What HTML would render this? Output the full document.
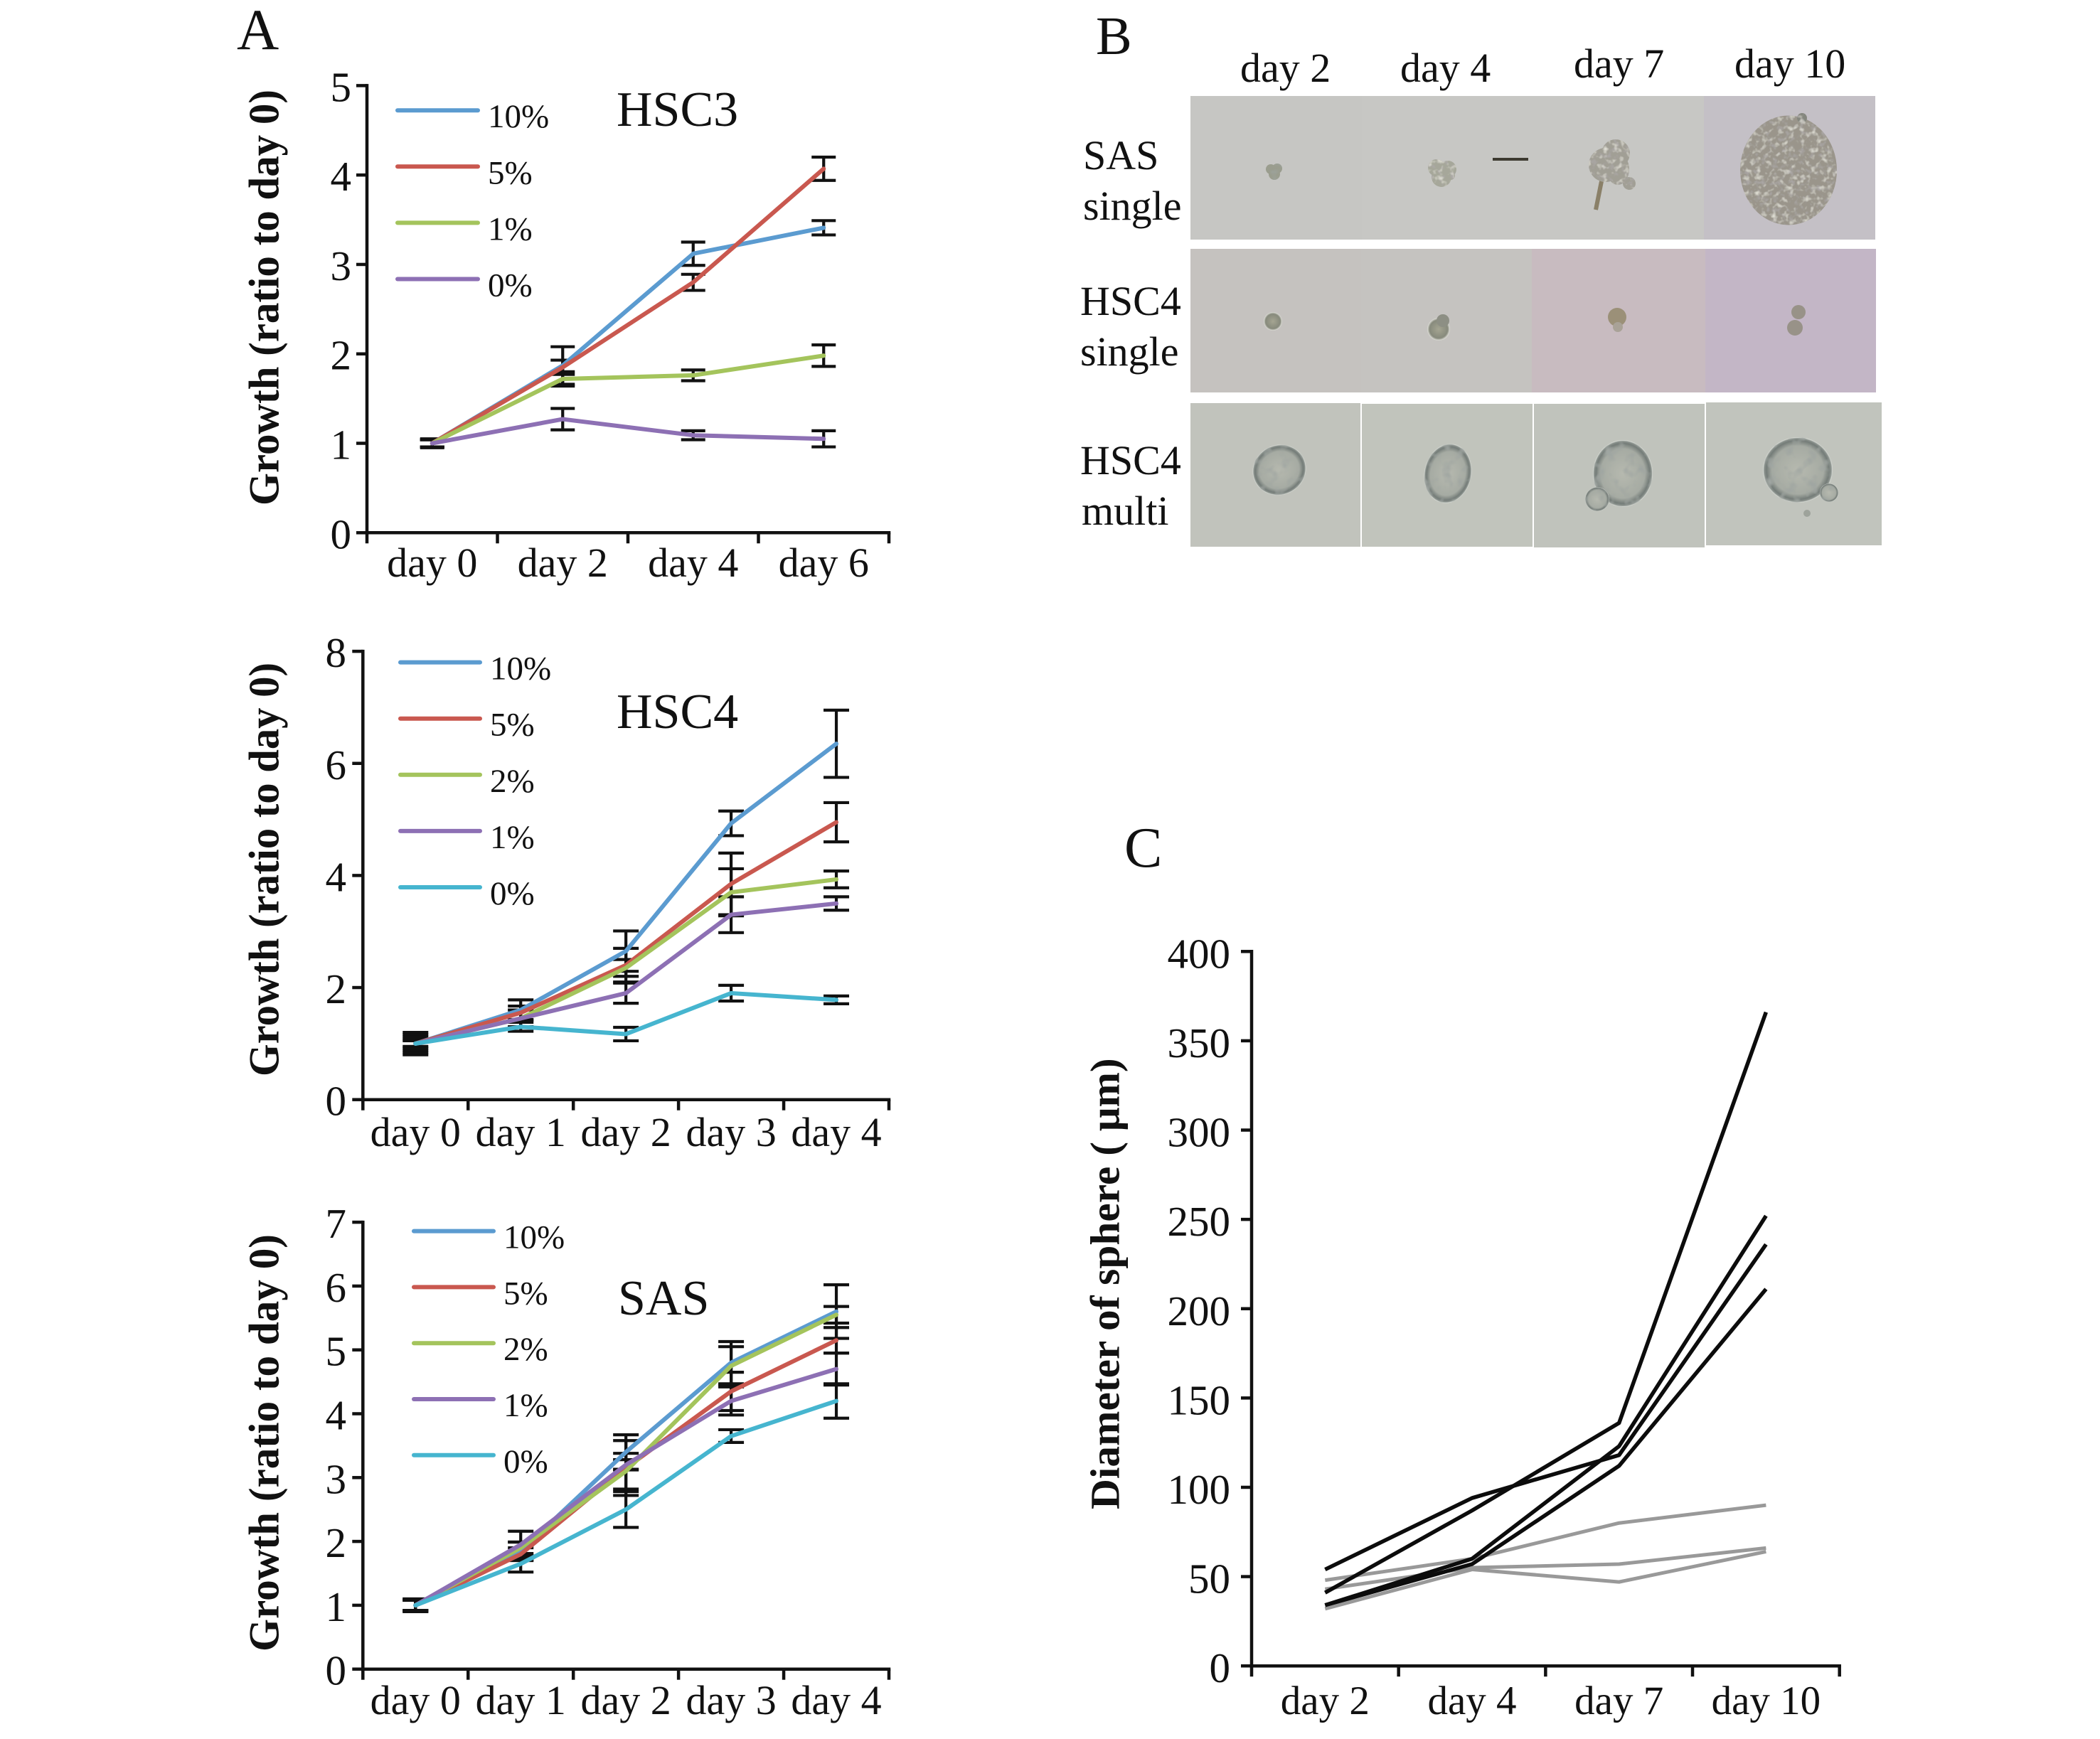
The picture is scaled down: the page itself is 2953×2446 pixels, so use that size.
<!DOCTYPE html>
<html lang="en">
<head>
<meta charset="utf-8">
<title>Growth and sphere formation figure</title>
<style>
html,body{margin:0;padding:0;background:#fff;}
#figure{display:block;width:2953px;height:2446px;font-family:"Liberation Serif",serif;}
text{font-family:"Liberation Serif",serif;fill:#111;}
</style>
</head>
<body>
<svg id="figure" xmlns="http://www.w3.org/2000/svg" width="2953" height="2446" viewBox="0 0 2953 2446">
<defs>
<filter id="cells" x="0" y="0" width="100%" height="100%">
<feTurbulence type="fractalNoise" baseFrequency="0.13" numOctaves="2" seed="4" result="n"/>
<feColorMatrix in="n" type="matrix" values="0 0 0 0 0.76  0 0 0 0 0.75  0 0 0 0 0.68  2.6 0 0 0 -1.35" result="lightRaw"/>
<feComposite in="lightRaw" in2="SourceAlpha" operator="in" result="light"/>
<feColorMatrix in="n" type="matrix" values="0 0 0 0 0.42  0 0 0 0 0.40  0 0 0 0 0.40  0 2.6 0 0 -1.35" result="darkRaw"/>
<feComposite in="darkRaw" in2="SourceAlpha" operator="in" result="dark"/>
<feMerge><feMergeNode in="SourceGraphic"/><feMergeNode in="dark"/><feMergeNode in="light"/></feMerge>
</filter>
<filter id="grain" x="0" y="0" width="100%" height="100%">
<feTurbulence type="fractalNoise" baseFrequency="0.07" numOctaves="2" seed="9" result="n"/>
<feColorMatrix in="n" type="matrix" values="0 0 0 0 0.35  0 0 0 0 0.38  0 0 0 0 0.36  3 0 0 0 -1.5" result="darkRaw"/>
<feComposite in="darkRaw" in2="SourceAlpha" operator="in" result="dark"/>
<feMerge><feMergeNode in="SourceGraphic"/><feMergeNode in="dark"/></feMerge>
</filter>
<radialGradient id="sphereMulti" cx="50%" cy="50%" r="50%">
<stop offset="0" stop-color="#b6b9af"/><stop offset="0.74" stop-color="#a6aba3"/><stop offset="0.9" stop-color="#747c78"/><stop offset="0.96" stop-color="#8b928d"/><stop offset="1" stop-color="#e2e5df"/>
</radialGradient>
<radialGradient id="cellSmall" cx="50%" cy="50%" r="50%">
<stop offset="0" stop-color="#a5a592"/><stop offset="0.8" stop-color="#878a7c"/><stop offset="1" stop-color="#e0e0da"/>
</radialGradient>
</defs>

<rect width="2953" height="2446" fill="#ffffff"/>

<text x="333" y="69" font-size="82">A</text>
<text x="1541" y="76" font-size="76">B</text>
<text x="1581" y="1219" font-size="80">C</text>

<g id="panel-b">
  <text x="1744" y="115" font-size="58">day 2</text>
  <text x="1969" y="115" font-size="58">day 4</text>
  <text x="2213" y="109" font-size="58">day 7</text>
  <text x="2439" y="109" font-size="58">day 10</text>
  <text x="1523" y="238" font-size="58">SAS</text>
  <text x="1523" y="309" font-size="58">single</text>
  <text x="1519" y="443" font-size="58">HSC4</text>
  <text x="1519" y="514" font-size="58">single</text>
  <text x="1519" y="667" font-size="58">HSC4</text>
  <text x="1521" y="738" font-size="58">multi</text>

  <rect x="1674" y="135" width="241" height="202" fill="#c6c6c3"/>
  <rect x="1915" y="135" width="240" height="202" fill="#c7c7c4"/>
  <rect x="2155" y="135" width="241" height="202" fill="#c7c7c4"/>
  <rect x="2396" y="135" width="241" height="202" fill="#c4c0c6"/>

  <rect x="1674" y="350" width="240" height="202" fill="#c5c2bf"/>
  <rect x="1914" y="350" width="240" height="202" fill="#c5c3c0"/>
  <rect x="2154" y="350" width="244" height="202" fill="#c8bbc0"/>
  <rect x="2398" y="350" width="240" height="202" fill="#c3b6c6"/>

  <rect x="1674" y="567" width="239" height="202" fill="#c1c3bc"/>
  <rect x="1915" y="568" width="240" height="201" fill="#c1c4bc"/>
  <rect x="2157" y="568" width="240" height="202" fill="#c0c3bc"/>
  <rect x="2399" y="566" width="247" height="201" fill="#c1c4bd"/>

  <g filter="url(#grain)">
    <circle cx="1787" cy="238" r="7" fill="#9a9d8e"/><circle cx="1796" cy="237" r="7" fill="#9a9d8e"/><circle cx="1792" cy="245" r="8" fill="#9a9d8e"/>
  </g>
  <g filter="url(#cells)">
    <circle cx="2020" cy="236" r="12" fill="#a6a79a"/><circle cx="2036" cy="238" r="12" fill="#a6a79a"/><circle cx="2027" cy="249" r="14" fill="#a6a79a"/><circle cx="2040" cy="247" r="6" fill="#a6a79a"/>
  </g>
  <rect x="2099" y="222" width="50" height="4" fill="#3d3a30"/>
  <line x1="2252" y1="255" x2="2244" y2="295" stroke="#8a8068" stroke-width="6"/>
  <g filter="url(#cells)">
    <ellipse cx="2272" cy="216" rx="20" ry="20" fill="#a19f95"/><ellipse cx="2258" cy="232" rx="24" ry="24" fill="#a19f95"/><ellipse cx="2275" cy="238" rx="16" ry="22" fill="#a19f95"/><circle cx="2291" cy="258" r="9" fill="#a19f95"/>
  </g>
  <g filter="url(#cells)">
    <ellipse cx="2515" cy="239.5" rx="68" ry="77" fill="#9a958b"/>
    <circle cx="2534" cy="166" r="7" fill="#84867e"/>
  </g>

  <circle cx="1790" cy="452" r="13" fill="url(#cellSmall)"/>
  <circle cx="2023" cy="463" r="16" fill="url(#cellSmall)"/>
  <circle cx="2029" cy="451" r="9" fill="#8d8f84"/>
  <circle cx="2274" cy="446" r="13" fill="#9b9078"/>
  <circle cx="2275" cy="460" r="7" fill="#a9a297"/>
  <circle cx="2529" cy="439" r="10" fill="#989288"/>
  <circle cx="2524" cy="461" r="11" fill="#989288"/>

  <g filter="url(#grain)">
    <ellipse cx="1799" cy="661" rx="38" ry="35" transform="rotate(-25 1799 661)" fill="url(#sphereMulti)"/>
  </g>
  <g filter="url(#grain)">
    <ellipse cx="2036" cy="666" rx="33" ry="42" transform="rotate(12 2036 666)" fill="url(#sphereMulti)"/>
  </g>
  <g filter="url(#grain)">
    <ellipse cx="2282" cy="666" rx="42" ry="47" fill="url(#sphereMulti)"/>
    <circle cx="2246" cy="702" r="17" fill="url(#sphereMulti)"/>
  </g>
  <g filter="url(#grain)">
    <ellipse cx="2528" cy="661" rx="49" ry="46" fill="url(#sphereMulti)"/>
    <circle cx="2572" cy="693" r="13" fill="url(#sphereMulti)"/>
    <circle cx="2541" cy="722" r="5" fill="#9ea39b"/>
  </g>
</g>

<g id="plots"></g>
</svg>

<script>
// ---------- HSC3 data ----------
const hsc3Categories = ['day 0', 'day 2', 'day 4', 'day 6'];
const hsc3Ticks = [0, 1, 2, 3, 4, 5];
const hsc3Labels = ['10%', '5%', '1%', '0%'];
const hsc3Pct10 = [1, 1.87, 3.12, 3.41];
const hsc3Pct5 = [1, 1.85, 2.80, 4.07];
const hsc3Pct1 = [1, 1.72, 1.76, 1.98];
const hsc3Pct0 = [1, 1.27, 1.09, 1.05];
const hsc3Err10 = [0.04, 0.21, 0.13, 0.08];
const hsc3Err5 = [0.04, 0.08, 0.09, 0.13];
const hsc3Err1 = [0.04, 0.08, 0.06, 0.12];
const hsc3Err0 = [0.05, 0.12, 0.05, 0.09];

// ---------- HSC4 data ----------
const hsc4Categories = ['day 0', 'day 1', 'day 2', 'day 3', 'day 4'];
const hsc4Ticks = [0, 2, 4, 6, 8];
const hsc4Labels = ['10%', '5%', '2%', '1%', '0%'];
const hsc4Pct10 = [1, 1.60, 2.65, 4.93, 6.35];
const hsc4Pct5 = [1, 1.55, 2.40, 3.85, 4.95];
const hsc4Pct2 = [1, 1.45, 2.35, 3.70, 3.93];
const hsc4Pct1 = [1, 1.45, 1.90, 3.30, 3.50];
const hsc4Pct0 = [1, 1.30, 1.17, 1.90, 1.78];
const hsc4Err10 = [0.20, 0.18, 0.36, 0.22, 0.60];
const hsc4Err5 = [0.16, 0.12, 0.30, 0.55, 0.35];
const hsc4Err2 = [0.12, 0.15, 0.15, 0.42, 0.15];
const hsc4Err1 = [0.08, 0.15, 0.18, 0.32, 0.12];
const hsc4Err0 = [0.05, 0.08, 0.12, 0.14, 0.07];

// ---------- SAS data ----------
const sasCategories = ['day 0', 'day 1', 'day 2', 'day 3', 'day 4'];
const sasTicks = [0, 1, 2, 3, 4, 5, 6, 7];
const sasLabels = ['10%', '5%', '2%', '1%', '0%'];
const sasPct10 = [1, 1.85, 3.40, 4.80, 5.60];
const sasPct5 = [1, 1.80, 3.15, 4.35, 5.15];
const sasPct2 = [1, 1.90, 3.10, 4.75, 5.55];
const sasPct1 = [1, 1.95, 3.20, 4.20, 4.70];
const sasPct0 = [1, 1.65, 2.50, 3.65, 4.20];
const sasErr10 = [0.10, 0.14, 0.27, 0.33, 0.42];
const sasErr5 = [0.08, 0.10, 0.43, 0.30, 0.20];
const sasErr2 = [0.08, 0.09, 0.28, 0.30, 0.13];
const sasErr1 = [0.08, 0.21, 0.08, 0.22, 0.25];
const sasErr0 = [0.10, 0.13, 0.28, 0.10, 0.27];

// ---------- Sphere diameter data ----------
const sphereCategories = ['day 2', 'day 4', 'day 7', 'day 10'];
const sphereTicks = [0, 50, 100, 150, 200, 250, 300, 350, 400];
const sphereGrowingA = [54, 94, 118, 236];
const sphereGrowingB = [41, 87, 136, 366];
const sphereGrowingC = [34, 60, 123, 252];
const sphereGrowingD = [34, 57, 112, 211];
const sphereStableA = [48, 60, 80, 90];
const sphereStableB = [43, 55, 57, 66];
const sphereStableC = [32, 54, 47, 64];

const NS = 'http://www.w3.org/2000/svg';
const plots = document.getElementById('plots');
const BLUE = '#5b9bd0', RED = '#c9584f', GREEN = '#a4c45c', PURPLE = '#8d70b4', CYAN = '#46b5cf';

function make(tag, attrs, parent) {
  const node = document.createElementNS(NS, tag);
  Object.keys(attrs).forEach(function (k) { node.setAttribute(k, attrs[k]); });
  parent.appendChild(node);
  return node;
}

function drawAxes(g, cfg, xPos, yPos) {
  const half = cfg.axisWidth / 2;
  const yAxis = make('line', {x1: cfg.left, y1: cfg.top - half, x2: cfg.left, y2: cfg.bottom, stroke: '#111', 'stroke-width': cfg.axisWidth}, g);
  
  
  const xAxis = make('line', {x1: cfg.left - half, y1: cfg.bottom, x2: cfg.right + half, y2: cfg.bottom, stroke: '#111', 'stroke-width': cfg.axisWidth}, g);
  
  

  cfg.ticks.forEach(function (t) {
    const mark = make('line', {x1: cfg.left - 15, y1: yPos(t), x2: cfg.left, y2: yPos(t), stroke: '#111', 'stroke-width': cfg.axisWidth}, g);
    
    
    const label = make('text', {x: cfg.tickRight, y: yPos(t) + cfg.tickDrop, 'text-anchor': 'end', 'font-size': cfg.tickSize}, g);
    label.textContent = String(t);
    
    
  });

  const n = cfg.categories.length;
  for (let i = 0; i <= n; i++) {
    const px = cfg.left + i * (cfg.right - cfg.left) / n;
    const mark = make('line', {x1: px, y1: cfg.bottom, x2: px, y2: cfg.bottom + 15, stroke: '#111', 'stroke-width': cfg.axisWidth}, g);
    
    
  }
  cfg.categories.forEach(function (c, i) {
    const label = make('text', {x: xPos(i), y: cfg.labelY, 'text-anchor': 'middle', 'font-size': cfg.labelSize}, g);
    label.textContent = c;
    
    
  });

  const yt = make('text', {
    x: cfg.titleX, y: cfg.titleStart, 'font-size': cfg.titleSize, 'font-weight': 'bold',
    transform: 'rotate(-90 ' + cfg.titleX + ' ' + cfg.titleStart + ')',
    textLength: cfg.titleLength, lengthAdjust: 'spacingAndGlyphs'
  }, g);
  yt.textContent = cfg.yTitle;
  
  
}

function drawGrowthChart(cfg) {
  const g = make('g', {}, plots);
  
  

  const n = cfg.categories.length;
  const yMax = cfg.ticks[cfg.ticks.length - 1];
  const xPos = function (i) { return cfg.left + (i + 0.5) * (cfg.right - cfg.left) / n; };
  const yPos = function (v) { return cfg.bottom - v / yMax * (cfg.bottom - cfg.top); };

  drawAxes(g, cfg, xPos, yPos);

  cfg.series.forEach(function (values, s) {
    values.forEach(function (v, i) {
      const e = cfg.errors[s][i];
      const stem = make('line', {x1: xPos(i), y1: yPos(v + e), x2: xPos(i), y2: yPos(v - e), stroke: '#111', 'stroke-width': 4.2}, g);
      
      
      [v + e, v - e].forEach(function (end) {
        const cap = make('line', {x1: xPos(i) - cfg.capHalf, y1: yPos(end), x2: xPos(i) + cfg.capHalf, y2: yPos(end), stroke: '#111', 'stroke-width': 4.2}, g);
        
        
      });
    });
  });

  cfg.series.forEach(function (values, s) {
    const pts = values.map(function (v, i) { return xPos(i) + ',' + yPos(v); }).join(' ');
    const line = make('polyline', {points: pts, fill: 'none', stroke: cfg.colors[s], 'stroke-width': 6, 'stroke-linejoin': 'round', 'stroke-linecap': 'round'}, g);
    
    
  });

  cfg.labels.forEach(function (lab, s) {
    const ly = cfg.legendY + s * cfg.legendStep;
    const key = make('line', {x1: cfg.legendX1, y1: ly, x2: cfg.legendX2, y2: ly, stroke: cfg.colors[s], 'stroke-width': 6, 'stroke-linecap': 'round'}, g);
    
    
    const txt = make('text', {x: cfg.legendTextX, y: ly + 24, 'font-size': 47}, g);
    txt.textContent = lab;
    
    
  });

  const title = make('text', {x: cfg.chartTitleX, y: cfg.chartTitleY, 'font-size': 70}, g);
  title.textContent = cfg.chartTitle;
  
  
}

function drawSphereChart(cfg) {
  const g = make('g', {}, plots);
  
  

  const n = cfg.categories.length;
  const yMax = cfg.ticks[cfg.ticks.length - 1];
  const xPos = function (i) { return cfg.left + (i + 0.5) * (cfg.right - cfg.left) / n; };
  const yPos = function (v) { return cfg.bottom - v / yMax * (cfg.bottom - cfg.top); };

  drawAxes(g, cfg, xPos, yPos);

  cfg.stable.forEach(function (values) {
    const pts = values.map(function (v, i) { return xPos(i) + ',' + yPos(v); }).join(' ');
    const line = make('polyline', {points: pts, fill: 'none', stroke: '#999999', 'stroke-width': 5, 'stroke-linejoin': 'round'}, g);
    
    
  });
  cfg.growing.forEach(function (values) {
    const pts = values.map(function (v, i) { return xPos(i) + ',' + yPos(v); }).join(' ');
    const line = make('polyline', {points: pts, fill: 'none', stroke: '#0c0c0c', 'stroke-width': 5.5, 'stroke-linejoin': 'round'}, g);
    
    
  });
}

drawGrowthChart({
  name: 'hsc3-growth-chart', categories: hsc3Categories, ticks: hsc3Ticks, labels: hsc3Labels,
  series: [hsc3Pct10, hsc3Pct5, hsc3Pct1, hsc3Pct0],
  errors: [hsc3Err10, hsc3Err5, hsc3Err1, hsc3Err0],
  colors: [BLUE, RED, GREEN, PURPLE],
  left: 516, right: 1250, top: 120.4, bottom: 749.3, axisWidth: 4.5, capHalf: 17,
  tickRight: 494, tickDrop: 22, tickSize: 59, labelY: 811, labelSize: 58,
  yTitle: 'Growth (ratio to day 0)', titleX: 391.5, titleStart: 711, titleLength: 585, titleSize: 60,
  legendX1: 559, legendX2: 672, legendY: 155.2, legendStep: 79.1, legendTextX: 686,
  chartTitle: 'HSC3', chartTitleX: 867, chartTitleY: 177
});

drawGrowthChart({
  name: 'hsc4-growth-chart', categories: hsc4Categories, ticks: hsc4Ticks, labels: hsc4Labels,
  series: [hsc4Pct10, hsc4Pct5, hsc4Pct2, hsc4Pct1, hsc4Pct0],
  errors: [hsc4Err10, hsc4Err5, hsc4Err2, hsc4Err1, hsc4Err0],
  colors: [BLUE, RED, GREEN, PURPLE, CYAN],
  left: 510.3, right: 1250, top: 916.1, bottom: 1546.7, axisWidth: 4.5, capHalf: 18,
  tickRight: 487, tickDrop: 22, tickSize: 59, labelY: 1612, labelSize: 58,
  yTitle: 'Growth (ratio to day 0)', titleX: 391.5, titleStart: 1514, titleLength: 582, titleSize: 60,
  legendX1: 563, legendX2: 675, legendY: 931.6, legendStep: 79.1, legendTextX: 689,
  chartTitle: 'HSC4', chartTitleX: 867, chartTitleY: 1024
});

drawGrowthChart({
  name: 'sas-growth-chart', categories: sasCategories, ticks: sasTicks, labels: sasLabels,
  series: [sasPct10, sasPct5, sasPct2, sasPct1, sasPct0],
  errors: [sasErr10, sasErr5, sasErr2, sasErr1, sasErr0],
  colors: [BLUE, RED, GREEN, PURPLE, CYAN],
  left: 510.3, right: 1250, top: 1719.1, bottom: 2347.7, axisWidth: 4.5, capHalf: 18,
  tickRight: 487, tickDrop: 22, tickSize: 59, labelY: 2411, labelSize: 58,
  yTitle: 'Growth (ratio to day 0)', titleX: 391.5, titleStart: 2323, titleLength: 587, titleSize: 60,
  legendX1: 582, legendX2: 694, legendY: 1731.6, legendStep: 78.8, legendTextX: 708,
  chartTitle: 'SAS', chartTitleX: 869, chartTitleY: 1849
});

drawSphereChart({
  name: 'sphere-diameter-chart', categories: sphereCategories, ticks: sphereTicks,
  growing: [sphereGrowingA, sphereGrowingB, sphereGrowingC, sphereGrowingD],
  stable: [sphereStableA, sphereStableB, sphereStableC],
  left: 1760, right: 2586.7, top: 1338.3, bottom: 2343.2, axisWidth: 4.5,
  tickRight: 1730, tickDrop: 23, tickSize: 59, labelY: 2411, labelSize: 57,
  yTitle: 'Diameter of sphere ( \u03bcm)', titleX: 1573.7, titleStart: 2123, titleLength: 634.7, titleSize: 58
});
</script>
</body>
</html>
